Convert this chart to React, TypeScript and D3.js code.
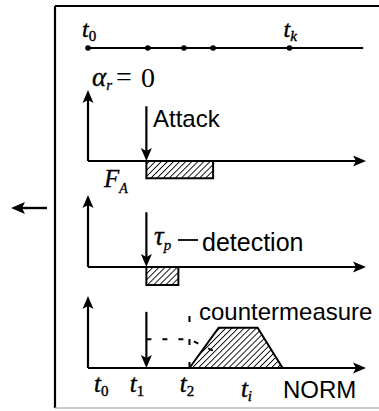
import * as d3 from 'd3';

// timeline (abstract time units)
const timelineDots = [0, 2.15, 3.45, 4.5, 7.25];
const timelineEnd = 9.9;
const timelineLabels = [
  { sub: '0', t: 0 },
  { sub: 'k', t: 7.25 },
];

// event times
const attackStart = 2.1;
const attackSpan = [2.1, 4.5];
const attackDepth = -0.24;
const detectionSpan = [2.1, 3.25];
const detectionDepth = -0.25;
const eventArrowTop = [0.76, 0.76, 0.78];
const t2 = 3.65;
const cmTimes = [3.65, 4.7, 6.1, 7.0];
const cmValues = [0, 0.56, 0.56, 0];
const dashedPath = [
  { t: 2.1, v: 0.4 },
  { t: 3.65, v: 0.4 },
  { t: 4.6, v: 0.22 },
];

const bottomLabels = [
  { sub: '0', t: 0.22 },
  { sub: '1', t: 1.5 },
  { sub: '2', t: 3.3 },
  { sub: 'i', t: 5.5 },
];

const SANS = 'Liberation Sans, Arial, sans-serif';
const SERIF = 'Liberation Serif, Times New Roman, serif';

const W = 379;
const H = 411;
const frameX = 55;
const panelBase = [161, 267, 368];
const axisH = 72;

const x = d3.scaleLinear().domain([0, 10]).range([88, 366]);

function Arrow({ x1, y1, x2, y2, head = 13, half = 5.5, sw = 2.2 }: any) {
  const ang = Math.atan2(y2 - y1, x2 - x1);
  const bx = x2 - head * Math.cos(ang);
  const by = y2 - head * Math.sin(ang);
  const px = -Math.sin(ang) * half;
  const py = Math.cos(ang) * half;
  const notch = 3;
  const nx = x2 - (head - notch) * Math.cos(ang);
  const ny = y2 - (head - notch) * Math.sin(ang);
  return (
    <g>
      <line x1={x1} y1={y1} x2={nx} y2={ny} stroke="#000" strokeWidth={sw} />
      <path
        d={`M${x2},${y2}L${bx + px},${by + py}L${nx},${ny}L${bx - px},${by - py}Z`}
        fill="#000"
      />
    </g>
  );
}

function TLabel({ px, py, sub, size = 24, subSize = 15 }: any) {
  return (
    <text x={px} y={py} fontFamily={SERIF} fontStyle="italic" fontSize={size} stroke="#000" strokeWidth={0.4}>
      t
      <tspan fontStyle={/\d/.test(sub) ? 'normal' : 'italic'} fontSize={subSize} dy={4}>
        {sub}
      </tspan>
    </text>
  );
}

export default function App() {
  const ys = panelBase.map((b) => d3.scaleLinear().domain([0, 1]).range([b, b - axisH]));
  const y1 = ys[0];
  const y2 = ys[1];
  const y3 = ys[2];

  const trap = d3
    .line<number>()
    .x((t) => x(t))
    .y((_, i) => y3(cmValues[i]))(cmTimes) + 'Z';

  const dashLine = d3
    .line<any>()
    .x((d) => x(d.t))
    .y((d) => y3(d.v))(dashedPath);

  const timelineY = 48;

  return (
    <svg
      width={W}
      height={H}
      style={{ position: 'absolute', left: 0, top: 0, background: '#fff' }}
    >
      <defs>
        <pattern id="hatch" patternUnits="userSpaceOnUse" width={4.3} height={10} patternTransform="rotate(45)">
          <line x1={0} y1={0} x2={0} y2={10} stroke="#000" strokeWidth={1.8} />
        </pattern>
      </defs>

      {/* frame */}
      <line x1={frameX} y1={6} x2={W} y2={6} stroke="#000" strokeWidth={2.2} />
      <line x1={frameX} y1={6} x2={frameX} y2={408} stroke="#000" strokeWidth={2.2} />
      <line x1={frameX} y1={408} x2={W} y2={408} stroke="#bbb" strokeWidth={1.5} />

      {/* outer arrow */}
      <Arrow x1={47} y1={208} x2={11} y2={208} head={14} half={6} sw={2.4} />

      {/* timeline */}
      <line x1={x(0)} y1={timelineY} x2={x(timelineEnd)} y2={timelineY} stroke="#000" strokeWidth={2.2} />
      {timelineDots.map((t, i) => (
        <circle key={i} cx={x(t)} cy={timelineY} r={2.8} fill="#000" />
      ))}
      {timelineLabels.map((d, i) => (
        <TLabel key={i} px={x(d.t) - 6} py={37} sub={d.sub} />
      ))}

      {/* panel 1: attack */}
      <Arrow x1={x(0)} y1={y1(0)} x2={x(0)} y2={y1(1) + 1} />
      <Arrow x1={x(0)} y1={y1(0)} x2={x(10)} y2={y1(0)} />
      <rect
        x={x(attackSpan[0])}
        y={y1(0)}
        width={x(attackSpan[1]) - x(attackSpan[0])}
        height={y1(attackDepth) - y1(0)}
        fill="url(#hatch)"
        stroke="#000"
        strokeWidth={2}
      />
      <Arrow x1={x(attackStart)} y1={y1(eventArrowTop[0])} x2={x(attackStart)} y2={y1(0)} />
      <text x={92} y={86} fontFamily={SERIF} fontSize={27} fontStyle="italic" stroke="#000" strokeWidth={0.3}>
        α<tspan fontSize={15} dy={4}>r</tspan>
      </text>
      <text x={116} y={86} fontFamily={SERIF} fontSize={28}>=</text>
      <text x={141} y={87} fontFamily={SERIF} fontSize={28}>0</text>
      <text x={153} y={127} fontFamily={SANS} fontSize={24}>Attack</text>
      <text x={104} y={187} fontFamily={SERIF} fontSize={25} fontStyle="italic" stroke="#000" strokeWidth={0.3}>
        F<tspan fontSize={14} dy={6}>A</tspan>
      </text>

      {/* panel 2: detection */}
      <Arrow x1={x(0)} y1={y2(0)} x2={x(0)} y2={y2(1)} />
      <Arrow x1={x(0)} y1={y2(0)} x2={x(10)} y2={y2(0)} />
      <rect
        x={x(detectionSpan[0])}
        y={y2(0)}
        width={x(detectionSpan[1]) - x(detectionSpan[0])}
        height={y2(detectionDepth) - y2(0)}
        fill="url(#hatch)"
        stroke="#000"
        strokeWidth={2}
      />
      <Arrow x1={x(attackStart)} y1={y2(eventArrowTop[1])} x2={x(attackStart)} y2={y2(0)} />
      <text x={154} y={245} fontFamily={SERIF} fontSize={27} fontStyle="italic" stroke="#000" strokeWidth={0.3}>
        τ<tspan fontSize={15} dy={5}>p</tspan>
      </text>
      <line x1={178} y1={240} x2={198} y2={240} stroke="#000" strokeWidth={1.8} />
      <text x={202} y={251} fontFamily={SANS} fontSize={25}>detection</text>

      {/* panel 3: countermeasure */}
      <path d={trap} fill="url(#hatch)" stroke="#000" strokeWidth={2} />
      <path d={dashLine ?? ''} fill="none" stroke="#000" strokeWidth={2} strokeDasharray="5 11" />
      <line
        x1={x(t2)}
        y1={y3(0)}
        x2={x(t2)}
        y2={y3(eventArrowTop[2])}
        stroke="#000"
        strokeWidth={2}
        strokeDasharray="6 17"
      />
      <Arrow x1={x(0)} y1={y3(0)} x2={x(0)} y2={y3(1)} />
      <Arrow x1={x(0)} y1={y3(0)} x2={x(10)} y2={y3(0)} />
      <Arrow x1={x(attackStart)} y1={y3(eventArrowTop[2])} x2={x(attackStart)} y2={y3(0)} />
      <text x={199} y={320} fontFamily={SANS} fontSize={24}>countermeasure</text>
      {bottomLabels.map((d, i) => (
        <TLabel key={i} px={x(d.t)} py={d.sub === 'i' ? 397 : 392} sub={d.sub} size={25} subSize={15} />
      ))}
      <text x={283} y={398} fontFamily={SANS} fontSize={24}>NORM</text>
    </svg>
  );
}
